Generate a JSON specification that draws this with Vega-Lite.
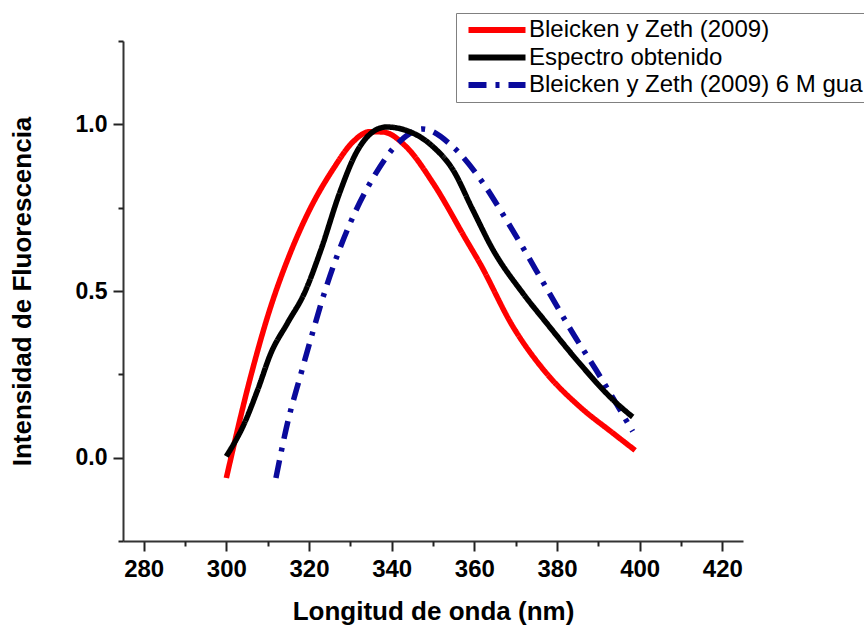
{
  "$schema": "https://vega.github.io/schema/vega-lite/v6.json",
  "width": 620,
  "height": 500,
  "autosize": {"type": "none"},
  "padding": {"left": 123, "top": 41, "right": 121, "bottom": 88},
  "background": "white",
  "config": {"view": {"stroke": null}, "font": "Liberation Sans"},
  "data": {"values": [
    {"s": "Bleicken y Zeth (2009)", "wl": 300.0, "v": -0.061},
    {"s": "Bleicken y Zeth (2009)", "wl": 305.9, "v": 0.244},
    {"s": "Bleicken y Zeth (2009)", "wl": 310.0, "v": 0.424},
    {"s": "Bleicken y Zeth (2009)", "wl": 315.6, "v": 0.618},
    {"s": "Bleicken y Zeth (2009)", "wl": 320.0, "v": 0.74},
    {"s": "Bleicken y Zeth (2009)", "wl": 325.8, "v": 0.865},
    {"s": "Bleicken y Zeth (2009)", "wl": 330.6, "v": 0.947},
    {"s": "Bleicken y Zeth (2009)", "wl": 334.7, "v": 0.978},
    {"s": "Bleicken y Zeth (2009)", "wl": 337.9, "v": 0.977},
    {"s": "Bleicken y Zeth (2009)", "wl": 343.5, "v": 0.933},
    {"s": "Bleicken y Zeth (2009)", "wl": 350.0, "v": 0.824},
    {"s": "Bleicken y Zeth (2009)", "wl": 358.0, "v": 0.654},
    {"s": "Bleicken y Zeth (2009)", "wl": 361.3, "v": 0.584},
    {"s": "Bleicken y Zeth (2009)", "wl": 369.3, "v": 0.394},
    {"s": "Bleicken y Zeth (2009)", "wl": 377.4, "v": 0.254},
    {"s": "Bleicken y Zeth (2009)", "wl": 385.4, "v": 0.154},
    {"s": "Bleicken y Zeth (2009)", "wl": 393.5, "v": 0.074},
    {"s": "Bleicken y Zeth (2009)", "wl": 398.9, "v": 0.022},
    {"s": "Bleicken y Zeth (2009) 6 M gua", "wl": 312.0, "v": -0.061},
    {"s": "Bleicken y Zeth (2009) 6 M gua", "wl": 314.8, "v": 0.104},
    {"s": "Bleicken y Zeth (2009) 6 M gua", "wl": 318.0, "v": 0.249},
    {"s": "Bleicken y Zeth (2009) 6 M gua", "wl": 320.5, "v": 0.359},
    {"s": "Bleicken y Zeth (2009) 6 M gua", "wl": 324.1, "v": 0.509},
    {"s": "Bleicken y Zeth (2009) 6 M gua", "wl": 326.9, "v": 0.609},
    {"s": "Bleicken y Zeth (2009) 6 M gua", "wl": 329.8, "v": 0.699},
    {"s": "Bleicken y Zeth (2009) 6 M gua", "wl": 335.5, "v": 0.839},
    {"s": "Bleicken y Zeth (2009) 6 M gua", "wl": 341.9, "v": 0.948},
    {"s": "Bleicken y Zeth (2009) 6 M gua", "wl": 347.5, "v": 0.986},
    {"s": "Bleicken y Zeth (2009) 6 M gua", "wl": 354.8, "v": 0.933},
    {"s": "Bleicken y Zeth (2009) 6 M gua", "wl": 362.1, "v": 0.824},
    {"s": "Bleicken y Zeth (2009) 6 M gua", "wl": 367.7, "v": 0.714},
    {"s": "Bleicken y Zeth (2009) 6 M gua", "wl": 377.4, "v": 0.51},
    {"s": "Bleicken y Zeth (2009) 6 M gua", "wl": 383.8, "v": 0.374},
    {"s": "Bleicken y Zeth (2009) 6 M gua", "wl": 389.5, "v": 0.262},
    {"s": "Bleicken y Zeth (2009) 6 M gua", "wl": 398.3, "v": 0.079},
    {"s": "Espectro obtenido", "wl": 300.0, "v": 0.004},
    {"s": "Espectro obtenido", "wl": 304.4, "v": 0.104},
    {"s": "Espectro obtenido", "wl": 307.6, "v": 0.204},
    {"s": "Espectro obtenido", "wl": 310.8, "v": 0.314},
    {"s": "Espectro obtenido", "wl": 314.8, "v": 0.404},
    {"s": "Espectro obtenido", "wl": 318.9, "v": 0.494},
    {"s": "Espectro obtenido", "wl": 322.9, "v": 0.624},
    {"s": "Espectro obtenido", "wl": 327.4, "v": 0.794},
    {"s": "Espectro obtenido", "wl": 331.4, "v": 0.914},
    {"s": "Espectro obtenido", "wl": 335.5, "v": 0.978},
    {"s": "Espectro obtenido", "wl": 338.7, "v": 0.992},
    {"s": "Espectro obtenido", "wl": 345.1, "v": 0.974},
    {"s": "Espectro obtenido", "wl": 350.0, "v": 0.933},
    {"s": "Espectro obtenido", "wl": 354.8, "v": 0.864},
    {"s": "Espectro obtenido", "wl": 359.6, "v": 0.744},
    {"s": "Espectro obtenido", "wl": 364.5, "v": 0.624},
    {"s": "Espectro obtenido", "wl": 371.7, "v": 0.494},
    {"s": "Espectro obtenido", "wl": 377.4, "v": 0.405},
    {"s": "Espectro obtenido", "wl": 385.4, "v": 0.284},
    {"s": "Espectro obtenido", "wl": 393.5, "v": 0.174},
    {"s": "Espectro obtenido", "wl": 398.3, "v": 0.122}
  ]},
  "layer": [
    {
      "mark": {"type": "line", "interpolate": "monotone", "strokeWidth": 5.5},
      "encoding": {
        "x": {
          "field": "wl", "type": "quantitative",
          "scale": {"domain": [275, 425], "nice": false, "zero": false},
          "axis": {
            "orient": "bottom",
            "title": "Longitud de onda (nm)",
            "values": [280, 300, 320, 340, 360, 380, 400, 420],
            "tickSize": 10, "tickWidth": 2, "tickColor": "#222",
            "domainColor": "#333", "domainWidth": 2,
            "grid": false,
            "labelFont": "Liberation Sans", "labelFontWeight": "bold", "labelFontSize": 24, "labelColor": "black",
            "labelPadding": 6, "labelFlush": false, "labelOverlap": false,
            "titleFont": "Liberation Sans", "titleFontWeight": "bold", "titleFontSize": 26, "titleColor": "black",
            "titleBaseline": "middle", "titleY": 70
          }
        },
        "y": {
          "field": "v", "type": "quantitative",
          "scale": {"domain": [-0.25, 1.25], "nice": false, "zero": false},
          "axis": {
            "orient": "left",
            "title": "Intensidad de Fluorescencia",
            "values": [0, 0.5, 1],
            "format": ".1f",
            "tickSize": 10, "tickWidth": 2, "tickColor": "#222",
            "domainColor": "#333", "domainWidth": 2,
            "grid": false,
            "labelFont": "Liberation Sans", "labelFontWeight": "bold", "labelFontSize": 23, "labelColor": "black",
            "labelPadding": 6, "labelFlush": false, "labelOverlap": false,
            "titleFont": "Liberation Sans", "titleFontWeight": "bold", "titleFontSize": 26, "titleColor": "black",
            "titleAngle": -90, "titleBaseline": "middle", "titleAlign": "center",
            "titleX": -101, "titleY": 250
          }
        },
        "color": {
          "field": "s", "type": "nominal",
          "scale": {
            "domain": ["Bleicken y Zeth (2009)", "Espectro obtenido", "Bleicken y Zeth (2009) 6 M gua"],
            "range": ["#ff0000", "#000000", "#0a0a9c"]
          },
          "legend": {
            "orient": "none", "legendX": 333, "legendY": -28,
            "title": null,
            "strokeColor": "#808080", "fillColor": "white", "padding": 5,
            "symbolType": "M-5,0H5", "symbolSize": 130, "symbolStrokeWidth": 6, "symbolOffset": 24,
            "labelFont": "Liberation Sans", "labelFontSize": 24, "labelColor": "black",
            "labelOffset": 20, "rowPadding": 3.5, "labelLimit": 600
          }
        },
        "strokeDash": {
          "field": "s", "type": "nominal",
          "scale": {
            "domain": ["Bleicken y Zeth (2009)", "Espectro obtenido", "Bleicken y Zeth (2009) 6 M gua"],
            "range": [[1, 0], [1, 0], [18, 9, 4, 9]]
          },
          "legend": {
            "orient": "none", "legendX": 333, "legendY": -28,
            "title": null,
            "strokeColor": "#808080", "fillColor": "white", "padding": 5,
            "symbolType": "M-5,0H5", "symbolSize": 130, "symbolStrokeWidth": 6, "symbolOffset": 24,
            "labelFont": "Liberation Sans", "labelFontSize": 24, "labelColor": "black",
            "labelOffset": 20, "rowPadding": 3.5, "labelLimit": 600
          }
        }
      }
    },
    {
      "mark": {"type": "line", "opacity": 0},
      "encoding": {
        "x": {
          "field": "wl", "type": "quantitative",
          "axis": {
            "orient": "bottom", "title": null, "labels": false, "domain": false, "grid": false,
            "values": [290, 310, 330, 350, 370, 390, 410],
            "tickSize": 5, "tickWidth": 2, "tickColor": "#222"
          }
        },
        "y": {
          "field": "v", "type": "quantitative",
          "axis": {
            "orient": "left", "title": null, "labels": false, "domain": false, "grid": false,
            "values": [-0.25, 0.25, 0.75, 1.25],
            "tickSize": 5, "tickWidth": 2, "tickColor": "#222"
          }
        },
        "detail": {"field": "s", "type": "nominal"}
      }
    }
  ],
  "resolve": {"axis": {"x": "independent", "y": "independent"}}
}
